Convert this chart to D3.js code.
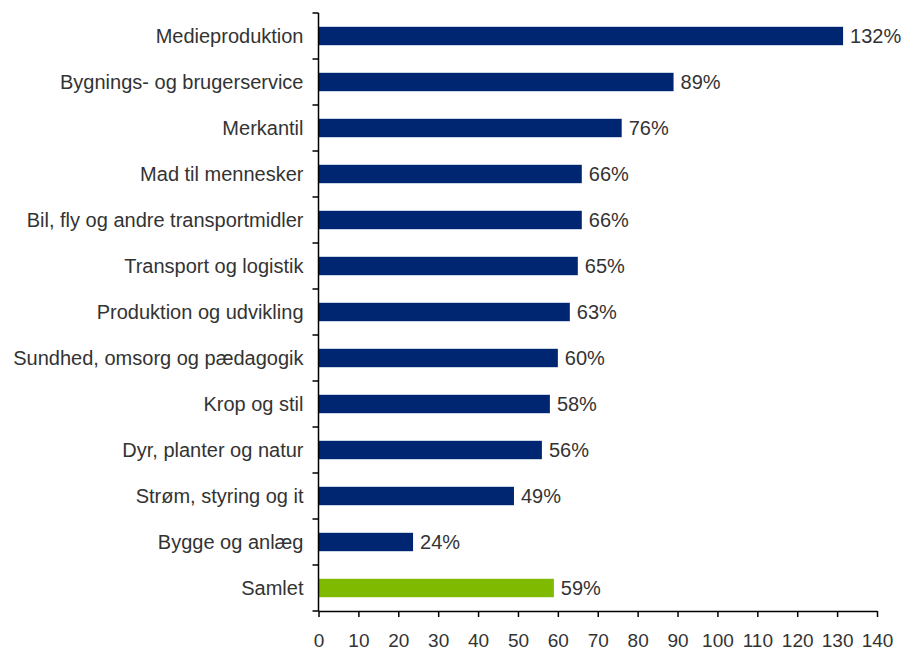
<!DOCTYPE html>
<html>
<head>
<meta charset="utf-8">
<script src="https://cdn.jsdelivr.net/npm/d3@7"></script>
<style>
  body { margin: 0; background: #fff; }
  svg text { font-family: "Liberation Sans", Arial, sans-serif; fill: #333; }
  .x-axis text { font-size: 19px; }
</style>
</head>
<body>
<div id="chart"></div>
<script>
// Data
const categories = [
    "Medieproduktion", "Bygnings- og brugerservice", "Merkantil", "Mad til mennesker",
    "Bil, fly og andre transportmidler", "Transport og logistik", "Produktion og udvikling",
    "Sundhed, omsorg og pædagogik", "Krop og stil", "Dyr, planter og natur",
    "Strøm, styring og it", "Bygge og anlæg", "Samlet"
];
const values = [131.5, 89, 76, 66, 66, 65, 63, 60, 58, 56, 49, 23.7, 59];
const valueLabels = ["132%", "89%", "76%", "66%", "66%", "65%", "63%", "60%", "58%", "56%", "49%", "24%", "59%"];
const xTicks = [0, 10, 20, 30, 40, 50, 60, 70, 80, 90, 100, 110, 120, 130, 140];

const width = 910, height = 650;
const margin = { top: 13, right: 33, bottom: 39, left: 318.5 };

const svg = d3.select("#chart").append("svg")
    .attr("width", width)
    .attr("height", height);

const x = d3.scaleLinear()
    .domain([0, 140])
    .range([margin.left, width - margin.right]);

const y = d3.scaleBand()
    .domain(categories)
    .range([margin.top, height - margin.bottom])
    .paddingInner(0.6)
    .paddingOuter(0.3);

// bars
svg.selectAll("rect.bar")
    .data(categories)
    .enter().append("rect")
    .attr("class", "bar")
    .attr("x", x(0))
    .attr("y", d => y(d))
    .attr("width", (d, i) => x(values[i]) - x(0))
    .attr("height", y.bandwidth())
    .attr("fill", d => d === "Samlet" ? "#7fba00" : "#002672");

// value labels
svg.selectAll("text.val")
    .data(categories)
    .enter().append("text")
    .attr("class", "val")
    .attr("x", (d, i) => x(values[i]) + 7)
    .attr("y", d => y(d) + y.bandwidth() / 2)
    .attr("dy", "0.36em")
    .attr("font-size", "20px")
    .text((d, i) => valueLabels[i]);

// category labels
svg.selectAll("text.cat")
    .data(categories)
    .enter().append("text")
    .attr("class", "cat")
    .attr("x", margin.left - 15)
    .attr("y", d => y(d) + y.bandwidth() / 2)
    .attr("dy", "0.36em")
    .attr("text-anchor", "end")
    .attr("font-size", "20px")
    .text(d => d);

// y axis line and boundary ticks
const yTop = margin.top, yBottom = height - margin.bottom;
svg.append("line")
    .attr("x1", x(0)).attr("x2", x(0))
    .attr("y1", yTop).attr("y2", yBottom)
    .attr("stroke", "#000").attr("stroke-width", 1.5);

const boundaries = d3.range(categories.length + 1).map(i => yTop + i * (yBottom - yTop) / categories.length);
svg.selectAll("line.ytick")
    .data(boundaries)
    .enter().append("line")
    .attr("class", "ytick")
    .attr("x1", x(0) - 6).attr("x2", x(0))
    .attr("y1", d => d).attr("y2", d => d)
    .attr("stroke", "#000").attr("stroke-width", 1.5);

// x axis
const xAxis = svg.append("g")
    .attr("class", "x-axis")
    .attr("transform", `translate(0,${yBottom})`)
    .call(d3.axisBottom(x).tickValues(xTicks).tickSize(6).tickPadding(17).tickSizeOuter(0))
    .attr("font-size", 19);
xAxis.select(".domain").attr("stroke", "#000").attr("stroke-width", 1.5);
xAxis.selectAll(".tick line").attr("stroke", "#000").attr("stroke-width", 1.5);
</script>
</body>
</html>
